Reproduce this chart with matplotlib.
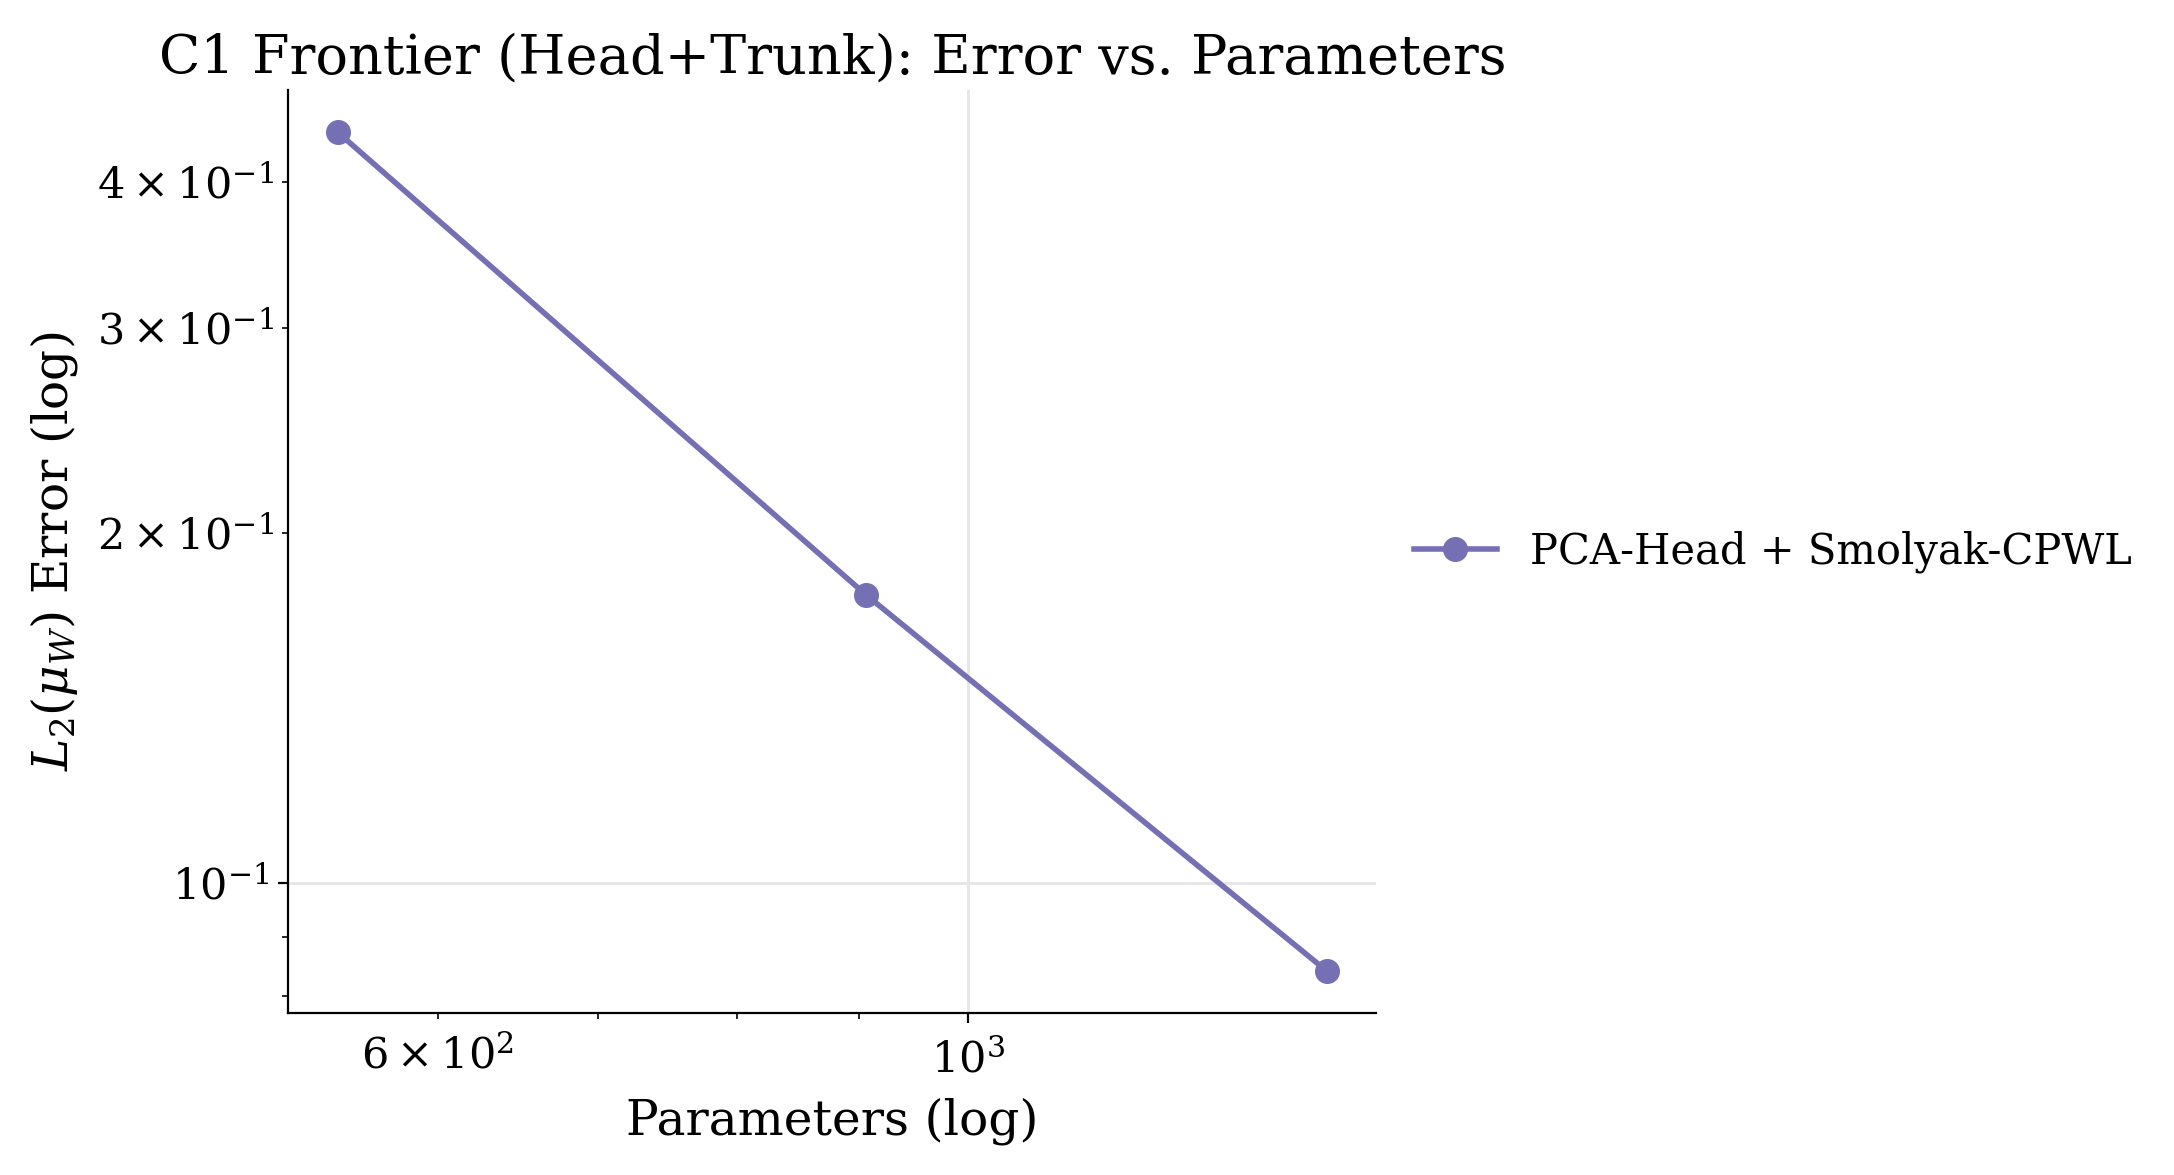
import numpy as np
import matplotlib
matplotlib.use("Agg")
import matplotlib.pyplot as plt

plt.rcParams['font.family'] = ['DejaVu Serif']
plt.rcParams['mathtext.fontset'] = 'dejavuserif'

# data
params = [545, 906, 1412]
errors = [0.4416, 0.177, 0.0841]
label = "PCA-Head + Smolyak-CPWL"
color = "#7570b3"

fig, ax = plt.subplots(figsize=(10.87, 5.875), dpi=200)
fig.subplots_adjust(left=0.1327, right=0.633, top=0.923, bottom=0.138)

ax.plot(params, errors, marker='o', color=color, lw=2, ms=8, label=label)
ax.set_xscale('log')
ax.set_yscale('log')
ax.grid(True, which='major', color='#e6e6e6', lw=1)
ax.set_axisbelow(True)
for s in ['top', 'right']:
    ax.spines[s].set_visible(False)

ax.set_title("C1 Frontier (Head+Trunk): Error vs. Parameters", fontsize=19.5)
ax.set_xlabel("Parameters (log)", fontsize=17.5, labelpad=6)
ax.set_ylabel(r"$L_2(\mu_W)$ Error (log)", fontsize=17.5, labelpad=6)
ax.tick_params(which='both', labelsize=15.5)
ax.tick_params(axis='x', which='both', pad=6)
ax.legend(loc='center left', bbox_to_anchor=(1.0, 0.5), frameon=False, fontsize=15)

fig.savefig("out.png", dpi=200)
